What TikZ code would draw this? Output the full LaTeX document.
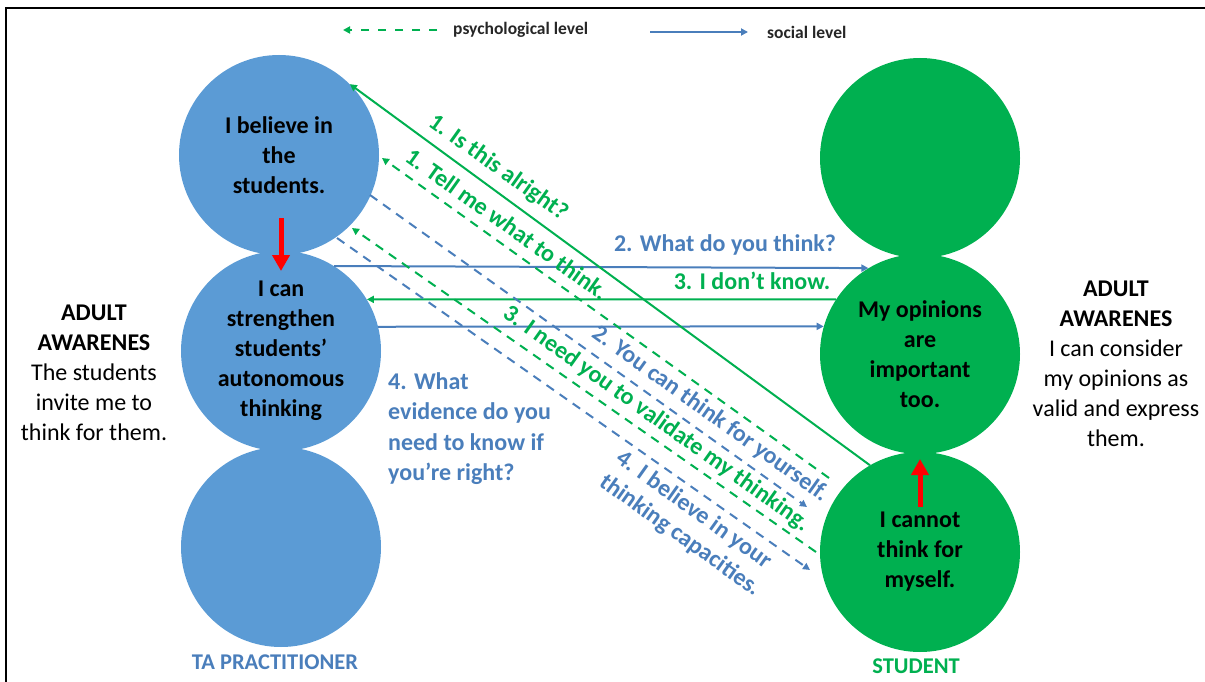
\documentclass[tikz,border=0pt]{standalone}
\usepackage{fontspec}
\setmainfont{Carlito}
\usetikzlibrary{arrows.meta}
\definecolor{cblue}{HTML}{5B9BD5}
\definecolor{cgreen}{HTML}{00B050}
\definecolor{lblue}{HTML}{4A7EBB}
\definecolor{lgreen}{HTML}{00B050}
\newcommand\bubfont{\fontsize{24}{30}\selectfont\bfseries}
\newcommand\sidefont{\fontsize{24}{30}\selectfont}
\begin{document}
\begin{tikzpicture}[x=1pt,y=-1pt,
  bbub/.style={circle, fill=cblue, minimum size=200pt, inner sep=0pt, align=center, font=\bubfont},
  gbub/.style={circle, fill=cgreen, minimum size=200pt, inner sep=0pt, align=center, font=\bubfont},
  lbl/.style={inner sep=0pt, font=\bubfont},
  legfont/.style={anchor=west, inner sep=0pt, font=\fontsize{17.5}{20}\selectfont\bfseries, text=black!85},
  tip/.style={-{Triangle[length=7pt,width=7pt]}},
  social/.style={draw=lblue, line width=2pt, tip},
  psych/.style={draw=lgreen, line width=2pt, tip},
  dsh/.style={dash pattern=on 9pt off 7pt},
  redarr/.style={draw=red, line width=5pt, -{Triangle[length=16pt,width=17pt]}}
]
\useasboundingbox (0,0) rectangle (1205,682);
\draw[line width=2pt] (6,682) -- (6,8) -- (1205,8);

% legend
\coordinate (lg1) at (437,30);
\coordinate (lg2) at (343,30);
\coordinate (ls1) at (650,32);
\coordinate (ls2) at (748,32);
\draw[psych, line width=2.5pt, dash pattern=on 8pt off 9pt] (lg1) -- (lg2);
\draw[social] (ls1) -- (ls2);
\node[legfont] (lgt) at (453,30) {psychological level};
\node[legfont] (lst) at (767,32) {social level};

% circles
\node[bbub] (tl) at (279,155) {I believe in\\the\\students.};
\node[bbub] (ml) at (281,351) {I can\\strengthen\\students'\\autonomous\\thinking};
\node[bbub] (bl) at (281,547) {};
\node[gbub] (tr) at (920,158) {};
\node[gbub] (mr) at (920,354) {My opinions\\are\\important\\too.};
\node[gbub] (br) at (920,552) {I cannot\\think for\\myself.};

\node[inner sep=0pt, font=\fontsize{22.5}{24}\selectfont\bfseries, text=lblue] (tap) at (275,662) {TA PRACTITIONER};
\node[inner sep=0pt, font=\fontsize{22.5}{24}\selectfont\bfseries, text=lgreen] (stu) at (916,666) {STUDENT};

% side texts
\node[inner sep=0pt, align=center, font=\sidefont] (lside) at (94,373)
  {\textbf{ADULT}\\\textbf{AWARENES}\\The students\\invite me to\\think for them.};
\node[inner sep=0pt, align=center, font=\sidefont] (rside) at (1116,364)
  {\textbf{ADULT}\\\textbf{AWARENES}\\I can consider\\my opinions as\\valid and express\\them.};

% red arrows
\coordinate (r1a) at (281,218);
\coordinate (r1b) at (281,271);
\coordinate (r2a) at (920,507);
\coordinate (r2b) at (920,459);
\draw[redarr] (r1a) -- (r1b);
\draw[redarr] (r2a) -- (r2b);

% horizontal transactions
\draw[social] (ml.58) -- (mr.121);
\draw[psych] (mr.147) -- (ml.31);
\draw[social] (ml.14) -- (mr.164);
\node[lbl, text=lblue] (t2a) at (725,245) {2. What do you think?};
\node[lbl, text=lgreen] (t3a) at (752,281) {3. I don't know.};

% diagonal transactions
\coordinate (d1a) at (829,478);
\coordinate (d1b) at (382,158);
\coordinate (d2a) at (370,195);
\coordinate (d2b) at (807,507);
\coordinate (d3a) at (816,552);
\coordinate (d3b) at (352,228);
\coordinate (d4a) at (337,238);
\coordinate (d4b) at (810,570);
\draw[psych] (br.120) -- (tl.45);
\draw[psych, dsh] (d1a) -- (d1b);
\draw[social, dsh] (d2a) -- (d2b);
\draw[psych, dsh] (d3a) -- (d3b);
\draw[social, dsh] (d4a) -- (d4b);

\node[lbl, text=lgreen, rotate=-35.5] (t1a) at (498,168) {1. Is this alright?};
\node[lbl, text=lgreen, rotate=-35.5] (t1b) at (507,224) {1. Tell me what to think.};
\node[lbl, text=lblue, rotate=-35.5] (t2b) at (710,414) {2. You can think for yourself.};
\node[lbl, text=lgreen, rotate=-35.5] (t3b) at (656,419) {3. I need you to validate my thinking.};
\node[lbl, text=lblue, rotate=-35.5, align=left, font=\fontsize{24}{28.6}\selectfont\bfseries] (t4b) at (688,524) {4. I believe in your\\thinking capacities.};
\node[lbl, text=lblue, align=left, anchor=north west, font=\fontsize{24}{30.5}\selectfont\bfseries] (t4a) at (388,372) {4. What\\evidence do you\\need to know if\\you’re right?};
\end{tikzpicture}
\end{document}
